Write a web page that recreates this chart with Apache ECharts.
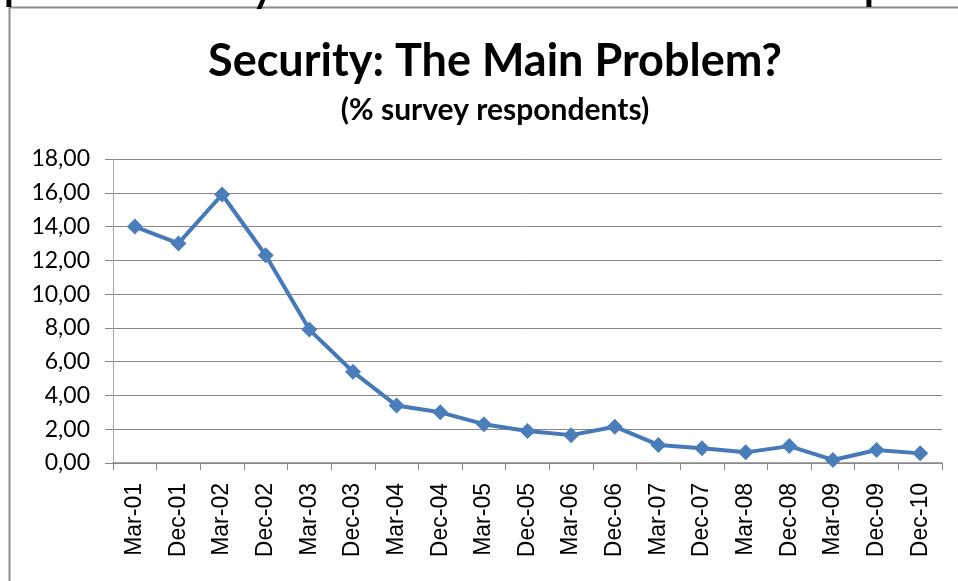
<!DOCTYPE html>
<html><head><meta charset="utf-8">
<script src="https://cdn.jsdelivr.net/npm/echarts@6/dist/echarts.min.js"></script>
<style>html,body{margin:0;padding:0;background:#fff}#c{width:958px;height:581px}</style>
</head><body><div id="c"></div>
<script>
const categories = ['Mar-01','Dec-01','Mar-02','Dec-02','Mar-03','Dec-03','Mar-04','Dec-04','Mar-05','Dec-05','Mar-06','Dec-06','Mar-07','Dec-07','Mar-08','Dec-08','Mar-09','Dec-09','Dec-10'];
const values = [14.0,13.0,15.9,12.3,7.9,5.4,3.4,3.0,2.3,1.9,1.65,2.15,1.07,0.87,0.63,1.0,0.18,0.77,0.57];
const yTicks = {min:0, max:18, interval:2};

const chart = echarts.init(document.getElementById('c'));
chart.setOption({
  backgroundColor:'#fff',
  animation:false,
  title:[
    {text:'Security: The Main Problem?', left:490, top:34, textAlign:'center',
     textStyle:{fontFamily:'Lato', fontWeight:'bold', fontSize:45, color:'#000'}},
    {text:'(% survey respondents)', left:490, top:90, textAlign:'center',
     textStyle:{fontFamily:'Lato', fontWeight:'bold', fontSize:30, color:'#000'}}
  ],
  graphic:[
    {type:'rect', shape:{x:9.5,y:7.5,width:960,height:590}, style:{fill:null, stroke:'#8c8c8c', lineWidth:2}},
    {type:'text', x:4, y:7, style:{text:'p', fontFamily:'Lato', fontWeight:'bold', fontSize:40, fill:'#000', verticalAlign:'bottom'}},
    {type:'text', x:252, y:9, style:{text:'y', fontFamily:'Lato', fontWeight:'bold', fontSize:40, fill:'#000', verticalAlign:'bottom'}},
    {type:'text', x:864, y:7, style:{text:'p', fontFamily:'Lato', fontWeight:'bold', fontSize:40, fill:'#000', verticalAlign:'bottom'}}
  ],
  grid:{left:113, right:16, top:159, bottom:118},
  xAxis:{type:'category', data:categories, boundaryGap:true,
    axisLine:{lineStyle:{color:'#888', width:1.5}},
    axisTick:{show:true, alignWithLabel:false, length:7, lineStyle:{color:'#888'}},
    axisLabel:{rotate:90, fontFamily:'Liberation Sans', fontSize:23, color:'#000', margin:20}},
  yAxis:{type:'value', min:yTicks.min, max:yTicks.max, interval:yTicks.interval,
    axisLine:{show:true, lineStyle:{color:'#aaa', width:1}},
    axisTick:{show:true, length:8, lineStyle:{color:'#888'}},
    splitLine:{lineStyle:{color:'#888', width:1}},
    axisLabel:{fontFamily:'Lato', fontSize:23, color:'#000', margin:23,
      formatter:v=>v.toFixed(2).replace('.',',')}},
  series:[{type:'line', data:values, symbol:'diamond', symbolSize:16,
    lineStyle:{color:'#4679b8', width:4},
    itemStyle:{color:'#4a7ebb'}}]
});
</script></body></html>
